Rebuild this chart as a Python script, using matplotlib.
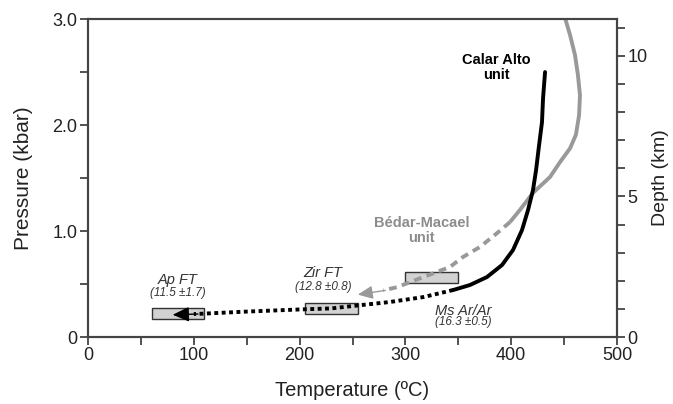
import matplotlib
matplotlib.use('Agg')
import matplotlib.pyplot as plt
from matplotlib.patches import Rectangle
from matplotlib.ticker import MultipleLocator, FixedLocator

plt.rcParams['font.family'] = ['Liberation Sans', 'DejaVu Sans']

# Calar Alto unit: solid path (T degC, P kbar)
ca_T = [432.0, 430.1, 429.1, 426.0, 423.5, 420.6, 415.9, 410.2, 401.7, 391.3, 377.1, 361.1, 345.0]
ca_P = [2.50, 2.255, 2.028, 1.783, 1.575, 1.387, 1.198, 1.009, 0.821, 0.679, 0.566, 0.491, 0.443]
# Calar Alto cooling path (dotted)
cad_T = [345, 317, 285, 257, 230, 200, 150, 108, 100]
cad_P = [0.443, 0.377, 0.33, 0.30, 0.27, 0.26, 0.24, 0.22, 0.217]

# Bedar-Macael unit: solid then dashed
bm_T = [450.9, 455.6, 460.3, 463.1, 465.0, 464.1, 461.2, 455.6, 446.1, 436.7, 420.6, 408.3, 398.9]
bm_P = [3.01, 2.85, 2.66, 2.47, 2.28, 2.09, 1.91, 1.78, 1.65, 1.51, 1.36, 1.20, 1.085]
bmd_T = [398.9, 386.6, 370.5, 354.4, 342.0, 317.0, 292.0, 279.0]
bmd_P = [1.085, 0.98, 0.85, 0.755, 0.66, 0.566, 0.47, 0.44]

# thermochronology boxes: (Tmin, Tmax, Pmin, Pmax)
boxes = [(60, 110, 0.17, 0.27), (205, 255, 0.22, 0.32), (300, 350, 0.51, 0.61)]

km_per_kbar = 3.77

fig = plt.figure(figsize=(6.73, 4.04), dpi=100)
ax = fig.add_axes([0.1308, 0.1658, 0.786, 0.787])

for t0, t1, p0, p1 in boxes:
    ax.add_patch(Rectangle((t0, p0), t1 - t0, p1 - p0, facecolor='#d2d2d2',
                           edgecolor='#333333', lw=1.0, zorder=2))

ax.plot(bm_T, bm_P, color='#999999', lw=2.8, solid_capstyle='butt', zorder=3)
ax.plot(bmd_T, bmd_P, color='#999999', lw=2.8, linestyle=(0, (2.0, 1.4)),
        dash_capstyle='butt', zorder=3)
ax.annotate('', xy=(255, 0.40), xytext=(281, 0.44),
            arrowprops=dict(arrowstyle='-|>,head_length=0.9,head_width=0.4',
                            color='#999999', lw=1, shrinkA=0, shrinkB=0), zorder=3)

ax.plot(ca_T, ca_P, color='black', lw=2.8, solid_capstyle='round', zorder=4)
ax.plot(cad_T, cad_P, color='black', lw=2.8, linestyle=(0, (1.0, 0.9)),
        dash_capstyle='butt', zorder=4)
ax.annotate('', xy=(80, 0.21), xytext=(104, 0.217),
            arrowprops=dict(arrowstyle='-|>,head_length=1.0,head_width=0.45',
                            color='black', lw=1, shrinkA=0, shrinkB=0), zorder=4)

# labels
tc = '#333333'
ax.text(386, 2.61, 'Calar Alto', ha='center', va='center', fontsize=10.5, fontweight='bold')
ax.text(386, 2.47, 'unit', ha='center', va='center', fontsize=10.5, fontweight='bold')
ax.text(315, 1.08, 'Bédar-Macael', ha='center', va='center', fontsize=10.5,
        fontweight='bold', color='#8c8c8c')
ax.text(315, 0.93, 'unit', ha='center', va='center', fontsize=10.5,
        fontweight='bold', color='#8c8c8c')
ax.text(355, 0.25, 'Ms Ar/Ar', ha='center', va='center', fontsize=10.5, style='italic', color=tc)
ax.text(355, 0.14, '(16.3 ±0.5)', ha='center', va='center', fontsize=8.5, style='italic', color=tc)
ax.text(222, 0.60, 'Zir FT', ha='center', va='center', fontsize=10.5, style='italic', color=tc)
ax.text(222, 0.47, '(12.8 ±0.8)', ha='center', va='center', fontsize=8.5, style='italic', color=tc)
ax.text(85, 0.54, 'Ap FT', ha='center', va='center', fontsize=10.5, style='italic', color=tc)
ax.text(85, 0.42, '(11.5 ±1.7)', ha='center', va='center', fontsize=8.5, style='italic', color=tc)

ax.set_xlim(0, 500)
ax.set_ylim(0, 3.0)
ax.xaxis.set_major_locator(MultipleLocator(100))
ax.xaxis.set_minor_locator(MultipleLocator(50))
ax.yaxis.set_major_locator(FixedLocator([0, 1, 2, 3]))
ax.yaxis.set_minor_locator(MultipleLocator(0.5))
ax.set_yticklabels(['0', '1.0', '2.0', '3.0'])

ax2 = ax.twinx()
ax2.set_ylim(0, 3.0 * km_per_kbar)
ax2.yaxis.set_major_locator(MultipleLocator(5))
ax2.yaxis.set_minor_locator(MultipleLocator(1))

for a in (ax, ax2):
    for s in a.spines.values():
        s.set_color('#444444')
        s.set_linewidth(1.5)
    a.tick_params(which='both', direction='out', length=5.5, width=1.3, color='#444444',
                  labelsize=13, labelcolor='#222222', pad=2)

ax.set_xlabel('Temperature (ºC)', fontsize=14.5, color='#222222', labelpad=12)
ax.set_ylabel('Pressure (kbar)', fontsize=15, color='#222222', labelpad=14)
ax2.set_ylabel('Depth (km)', fontsize=14, color='#222222', labelpad=3)

fig.savefig('out.png', dpi=100)
